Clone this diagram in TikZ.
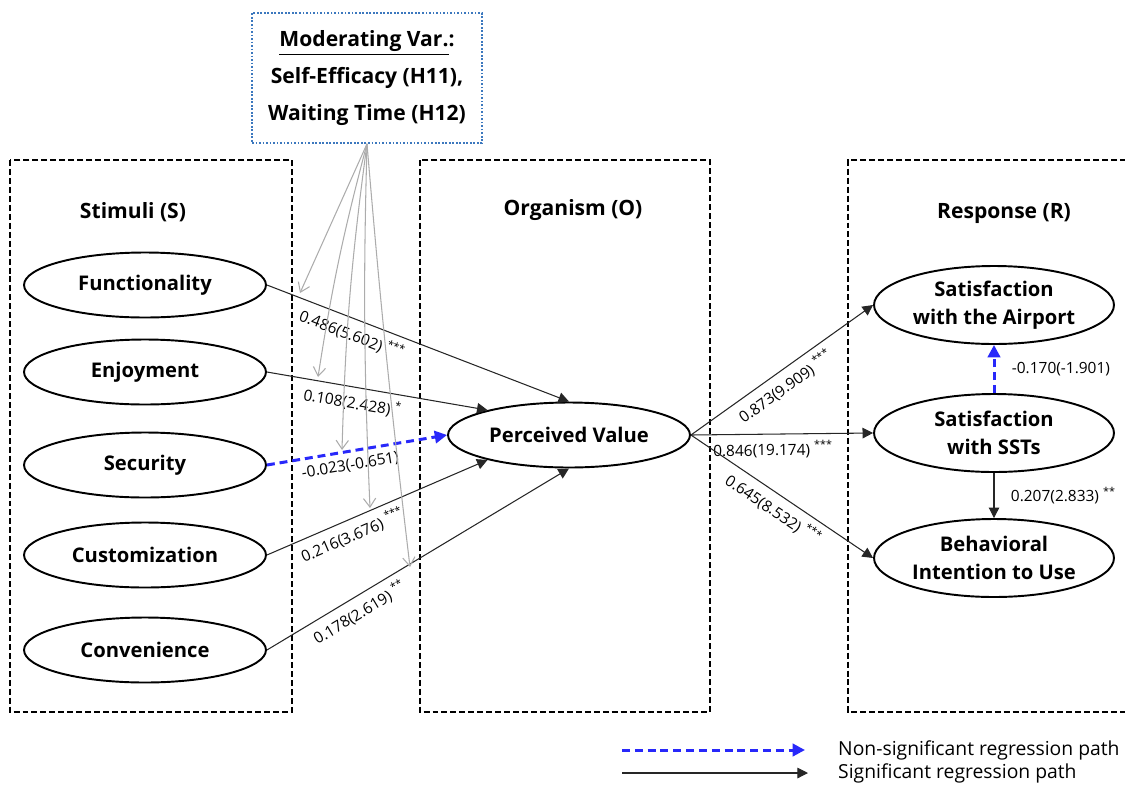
\documentclass[tikz,border=0pt]{standalone}
\usepackage{fontspec}
\setmainfont{Open Sans}
\usetikzlibrary{arrows.meta,shapes.geometric}

\definecolor{blaunosig}{RGB}{40,40,250}
\definecolor{blaumod}{RGB}{60,120,190}

\tikzset{
  var/.style={ellipse, draw, line width=1.1pt, inner sep=0pt, align=center,
    minimum width=4.84cm, minimum height=1.3cm,
    font=\bfseries\fontsize{11.5}{16}\selectfont},
  resp/.style={var, minimum width=4.8cm, minimum height=1.56cm},
  grup/.style={draw, line width=0.9pt, dash pattern=on 3.4pt off 1.7pt},
  titol/.style={font=\bfseries\fontsize{12}{14}\selectfont},
  modbox/.style={draw=blaumod, densely dotted, line width=1pt, align=center,
    minimum width=4.6cm, minimum height=2.6cm,
    font=\bfseries\fontsize{12}{21}\selectfont},
  sig/.style={-{Triangle[length=6pt,width=6pt]}, line width=0.6pt, draw=black!85},
  nosig/.style={-{Triangle[length=7pt,width=7pt]}, draw=blaunosig, line width=1.7pt,
    dash pattern=on 4.5pt off 2.8pt},
  modera/.style={-{Straight Barb[length=5pt,width=7pt]}, draw=gray!65, line width=0.6pt},
  coef/.style={font=\fontsize{8.8}{10}\selectfont, sloped, below, inner sep=3.5pt},
  coefr/.style={font=\fontsize{8.8}{10}\selectfont, right=6pt},
  llegenda/.style={font=\fontsize{11}{12}\selectfont, anchor=west}
}

\begin{document}
\begin{tikzpicture}[x=0.02cm, y=-0.02cm]
  \useasboundingbox (0,0) rectangle (1125,785);

  % Requadres S-O-R
  \draw[grup] (10,160) rectangle (292,712);
  \draw[grup] (420,160) rectangle (710,712);
  \draw[grup] (1126,160) -- (848,160) -- (848,712) -- (1126,712);
  \node[titol] (tS) at (133,212) {Stimuli (S)};
  \node[titol] (tO) at (573,210) {Organism (O)};
  \node[titol] (tR) at (1004,213) {Response (R)};

  % Variable moderadora
  \node[modbox] (mod) at (367,78) {\underline{Moderating Var.}:\\Self-Efficacy (H11),\\Waiting Time (H12)};

  % Estimuls
  \node[var] (fun) at (145,285) {Functionality};
  \node[var] (enj) at (145,372) {Enjoyment};
  \node[var] (seg) at (145,465) {Security};
  \node[var] (cus) at (145,555) {Customization};
  \node[var] (con) at (145,650) {Convenience};

  % Organisme i resposta
  \node[var] (pv) at (569,435) {Perceived Value};
  \node[resp] (air) at (994,305) {Satisfaction\\with the Airport};
  \node[resp] (sst) at (994,433) {Satisfaction\\with SSTs};
  \node[resp] (bi) at (994,558) {Behavioral\\Intention to Use};

  % Camins S -> O
  \draw[sig] (fun.east) -- node[coef, pos=0.3] {0.486(5.602) \textsuperscript{***}} (pv.north);
  \draw[sig] (enj.east) -- node[coef, pos=0.4] {0.108(2.428) \textsuperscript{*}} (pv.163);
  \draw[nosig] (seg.east) -- node[coef, pos=0.45] {-0.023(-0.651)} (pv.west);
  \draw[sig] (cus.east) -- node[coef, pos=0.36] {0.216(3.676) \textsuperscript{***}} (pv.197);
  \draw[sig] (con.east) -- node[coef, pos=0.28] {0.178(2.619) \textsuperscript{**}} (pv.south);

  % Camins O -> R
  \draw[sig] (pv.east) -- node[coef, pos=0.47] {0.873(9.909) \textsuperscript{***}} (air.west);
  \draw[sig] (pv.east) -- node[coef, pos=0.45] {0.846(19.174) \textsuperscript{***}} (sst.west);
  \draw[sig] (pv.east) -- node[coef, pos=0.5] {0.645(8.532) \textsuperscript{***}} (bi.west);
  \draw[nosig] (sst.north) -- node[coefr] {-0.170(-1.901)} (air.south);
  \draw[sig] (sst.south) -- node[coefr] {0.207(2.833) \textsuperscript{**}} (bi.north);

  % Fletxes de moderacio
  \coordinate (m1) at (300,293);
  \coordinate (m2) at (318,377);
  \coordinate (m3) at (342,450);
  \coordinate (m4) at (370,508);
  \coordinate (m5) at (410,567);
  \foreach \i/\b in {1/0,2/3,3/3,4/2,5/1}
    \draw[modera] (mod.south) to[bend right=\b] (m\i);

  % Llegenda
  \coordinate (l1a) at (622,750);
  \coordinate (l1b) at (805,750);
  \coordinate (l2a) at (622,773);
  \coordinate (l2b) at (808,773);
  \draw[nosig] (l1a) -- (l1b);
  \draw[sig] (l2a) -- (l2b);
  \node[llegenda] (ln) at (832,750) {Non-significant regression path};
  \node[llegenda] (ls) at (832,773) {Significant regression path};

\end{tikzpicture}
\end{document}
